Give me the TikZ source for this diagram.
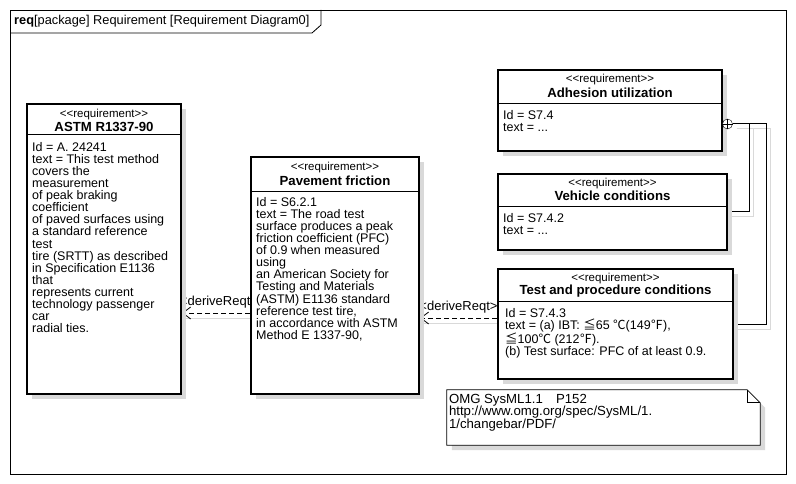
\documentclass[tikz,border=0pt]{standalone}
\usepackage{fontspec}
\setmainfont{Liberation Sans}
\newfontfamily\jpfont{Noto Sans CJK JP}
\usetikzlibrary{arrows.meta,shadows,positioning}
\pgfdeclarelayer{bg}
\pgfsetlayers{bg,main}
\newcommand{\guil}[1]{<\kern0pt<#1>\kern0pt>}

\begin{document}
\begin{tikzpicture}[x=1pt, y=-1pt,
    shadowed/.style={drop shadow={shadow xshift=5pt, shadow yshift=-5pt, fill=black!15, opacity=1}},
    reqbox/.style={draw, line width=2pt, fill=white, inner sep=0pt, shadowed},
    stereo/.style={font=\fontsize{11.5}{12}\selectfont, inner sep=0pt},
    reqname/.style={font=\fontsize{13.2}{14}\selectfont\bfseries, inner sep=0pt},
    reqtext/.style={font=\fontsize{12.5}{12.1}\selectfont, align=left, inner sep=0pt, anchor=north west},
    derive/.style={line width=0.8pt, dash pattern=on 5pt off 3pt, -{Straight Barb[length=8pt, width=12pt]}},
    lbl/.style={font=\fontsize{13}{13}\selectfont, inner sep=0pt},
    link/.style={line width=1pt},
    linkshadow/.style={line width=1pt, black!15, transform canvas={shift={(4pt,-5pt)}}}]
    \useasboundingbox (0,0) rectangle (796,484);

    % diagram frame
    \draw[line width=0.8pt] (10,10) rectangle (786,474);
    \draw[line width=0.8pt] (10,33) -- (312,33) -- (321,25) -- (321,10);
    \node[anchor=west, inner sep=0pt, font=\fontsize{12.8}{13}\selectfont] (title) at (14,21.5) {\textbf{req}[package] Requirement [Requirement Diagram0]};

    % requirements
    \node[reqbox, minimum width=154pt, minimum height=290pt] (astm) at (104,249) {};
    \node[stereo] at ([yshift=-12pt]astm.north) {\guil{requirement}};
    \node[reqname] at ([yshift=-24pt]astm.north) {ASTM R1337-90};
    \draw ([yshift=-31pt]astm.north west) -- ([yshift=-31pt]astm.north east);
    \node[reqtext] (astmtxt) at ([xshift=6pt, yshift=-39pt]astm.north west) {Id = A. 24241\\text = This test method\\covers the\\measurement\\of peak braking\\coefficient\\of paved surfaces using\\a standard reference\\test\\tire (SRTT) as described\\in Specification E1136\\that\\represents current\\technology passenger\\car\\radial ties.};

    \node[reqbox, minimum width=168pt, minimum height=237pt] (pav) at (335,275.5) {};
    \node[stereo] at ([yshift=-12pt]pav.north) {\guil{requirement}};
    \node[reqname] at ([yshift=-25pt]pav.north) {Pavement friction};
    \draw ([yshift=-35pt]pav.north west) -- ([yshift=-35pt]pav.north east);
    \node[reqtext] (pavtxt) at ([xshift=6pt, yshift=-41pt]pav.north west) {Id = S6.2.1\\text = The road test\\surface produces a peak\\friction coefficient (PFC)\\of 0.9 when measured\\using\\an American Society for\\Testing and Materials\\(ASTM) E1136 standard\\reference test tire,\\in accordance with ASTM\\Method E 1337-90,};

    \node[reqbox, minimum width=224pt, minimum height=81pt] (adh) at (610,110.5) {};
    \node[stereo] at ([yshift=-11pt]adh.north) {\guil{requirement}};
    \node[reqname] at ([yshift=-24pt]adh.north) {Adhesion utilization};
    \draw ([yshift=-34pt]adh.north west) -- ([yshift=-34pt]adh.north east);
    \node[reqtext] (adhtxt) at ([xshift=6pt, yshift=-41pt]adh.north west) {Id = S7.4\\text = ...};

    \node[reqbox, minimum width=229pt, minimum height=76pt] (veh) at (612.5,212) {};
    \node[stereo] at ([yshift=-11pt]veh.north) {\guil{requirement}};
    \node[reqname] at ([yshift=-23pt]veh.north) {Vehicle conditions};
    \draw ([yshift=-33pt]veh.north west) -- ([yshift=-33pt]veh.north east);
    \node[reqtext] (vehtxt) at ([xshift=6pt, yshift=-40pt]veh.north west) {Id = S7.4.2\\text = ...};

    \node[reqbox, minimum width=235pt, minimum height=110pt] (tst) at (615.5,324) {};
    \node[stereo] at ([yshift=-11pt]tst.north) {\guil{requirement}};
    \node[reqname] at ([yshift=-23pt]tst.north) {Test and procedure conditions};
    \draw ([yshift=-33pt]tst.north west) -- ([yshift=-33pt]tst.north east);
    \node[reqtext] (tsttxt) at ([xshift=8pt, yshift=-40pt]tst.north west) {Id = S7.4.3\\text = (a) IBT: {\jpfont ≦}65 {\jpfont ℃}(149{\jpfont ℉}),\\{\jpfont ≦}100{\jpfont ℃} (212{\jpfont ℉}).\\(b) Test surface: PFC of at least 0.9.};

    % note
    \node[minimum width=313pt, minimum height=55pt, inner sep=0pt] (note) at (603.5,417.5) {};
    \draw[line width=0.8pt, fill=white, shadowed] (note.north west) -- ([xshift=-13pt]note.north east) -- ([yshift=-13pt]note.north east) -- (note.south east) -- (note.south west) -- cycle;
    \draw[line width=0.8pt] ([xshift=-13pt]note.north east) |- ([yshift=-13pt]note.north east);
    \node[reqtext, font=\fontsize{13.2}{12.5}\selectfont] (notetxt) at ([xshift=2pt, yshift=-4pt]note.north west) {OMG SysML1.1\quad P152\\http://www.omg.org/spec/SysML/1.\\1/changebar/PDF/};

    % containment
    \node[draw, circle, fill=white, inner sep=0pt, minimum size=10pt] (own) at (727.5,124) {};
    \draw (own.north) -- (own.south) (own.west) -- (own.east);

    \begin{pgfonlayer}{bg}
        \draw[linkshadow] (own.east) -| ([xshift=21pt]veh.east) -- (veh.east);
        \draw[linkshadow] (own.east) -| ([xshift=32pt]tst.east) -- (tst.east);
        \draw[link] (own.east) -| ([xshift=21pt]veh.east) -- (veh.east);
        \draw[link] (own.east) -| ([xshift=32pt]tst.east) -- (tst.east);

        % derivations
        \draw[linkshadow] (pav.west |- 0,313) -- (astm.east |- 0,313);
        \draw[linkshadow] (tst.west |- 0,318) -- (pav.east |- 0,318);
        \draw[derive] (pav.west |- 0,313) -- (astm.east |- 0,313) node[lbl, midway, xshift=3pt, yshift=11pt] {\guil{deriveReqt}};
        \draw[derive] (tst.west |- 0,318) -- (pav.east |- 0,318) node[lbl, midway, yshift=11pt] {\guil{deriveReqt}};
    \end{pgfonlayer}
\end{tikzpicture}
\end{document}
